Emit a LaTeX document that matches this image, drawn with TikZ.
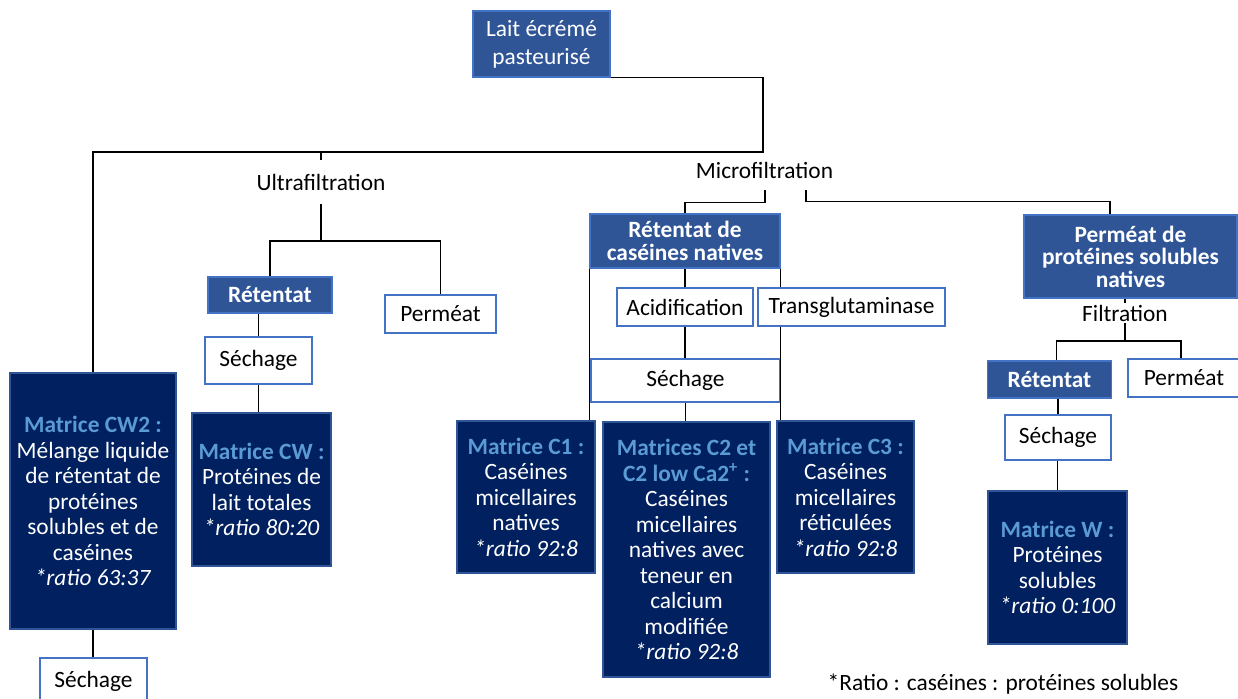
\documentclass[tikz,border=0pt]{standalone}
\usepackage{fontspec}
\setmainfont{Carlito}
\definecolor{midblue}{HTML}{2F5597}
\definecolor{navy}{HTML}{002060}
\definecolor{headblue}{HTML}{5B9BD5}
\definecolor{boxline}{HTML}{4472C4}
\newcommand{\px}{0.02cm}
\newcommand{\mhead}[1]{\textcolor{headblue}{\textbf{#1}}}
\tikzset{
  every node/.style={font=\fontsize{13.3}{14.5}\selectfont,align=center,inner sep=0pt},
  sz/.style 2 args={minimum width=#1*\px,minimum height=#2*\px},
  bluebox/.style={fill=midblue,draw=boxline,line width=0.8pt,text=white},
  boldbox/.style={bluebox,font=\bfseries\fontsize{13.3}{12.8}\selectfont},
  whitebox/.style={fill=white,draw=boxline,line width=0.8pt,text=black},
  matbox/.style={fill=navy,draw=midblue,line width=0.8pt,text=white},
  link/.style={draw=black,line width=0.8pt}
}

\begin{document}
\begin{tikzpicture}[x=\px,y=-\px]
\useasboundingbox (0,0) rectangle (1238,698);
\clip (0,0) rectangle (1238,698);
\node[bluebox,sz={137}{66},font=\fontsize{13.3}{15.9}\selectfont] (lait) at (541.5,44) {Lait écrémé\\pasteurisé};
\node[sz={150}{44}] (uf) at (321,182) {Ultrafiltration};
\node[sz={150}{40}] (mf) at (764.5,170) {Microfiltration};
\node[boldbox,sz={124}{36}] (ret1) at (270,295) {Rétentat};
\node[whitebox,sz={111}{38}] (perm1) at (440.5,314) {Perméat};
\node[whitebox,sz={107}{47}] (sech1) at (258.5,360.5) {Séchage};
\node[matbox,sz={139}{153}] (cw) at (261.5,489.5) {\mhead{Matrice CW :}\\Protéines de\\lait totales\\\textit{*ratio 80:20}};
\node[matbox,sz={166}{256}] (cw2) at (93,501) {\mhead{Matrice CW2 :}\\Mélange liquide\\de rétentat de\\protéines\\solubles et de\\caséines\\\textit{*ratio 63:37}};
\node[whitebox,sz={107}{46}] (sech0) at (93.5,681) {Séchage};
\node[boldbox,sz={190}{54}] (retcas) at (685,241) {Rétentat de\\caséines natives};
\node[whitebox,sz={136}{38}] (acid) at (685,307) {Acidification};
\node[whitebox,sz={187}{38}] (trans) at (851.5,307) {Transglutaminase};
\node[whitebox,sz={189}{43}] (sech2) at (685.5,380.5) {Séchage};
\node[matbox,sz={138}{152}] (c1) at (526,497) {\mhead{Matrice C1 :}\\Caséines\\micellaires\\natives\\\textit{*ratio 92:8}};
\node[matbox,sz={167}{255}] (c2) at (686.5,549.5) {\mhead{Matrices C2 et}\\\mhead{C2 low Ca2\textsuperscript{+} :}\\Caséines\\micellaires\\natives avec\\teneur en\\calcium\\modifiée\\\textit{*ratio 92:8}};
\node[matbox,sz={137}{152}] (c3) at (845.5,497) {\mhead{Matrice C3 :}\\Caséines\\micellaires\\réticulées\\\textit{*ratio 92:8}};
\node[boldbox,sz={213}{83}] (permps) at (1130.5,256.5) {Perméat de\\protéines solubles\\natives};
\node[sz={90}{20}] (filt) at (1125,313) {Filtration};
\node[boldbox,sz={124}{37}] (ret2) at (1049.5,379.5) {Rétentat};
\node[whitebox,sz={112}{38}] (perm2) at (1184,378) {Perméat};
\node[whitebox,sz={106}{45}] (sech3) at (1058,437.5) {Séchage};
\node[matbox,sz={139}{153}] (mw) at (1057.5,567.5) {\mhead{Matrice W :}\\Protéines\\solubles\\\textit{*ratio 0:100}};
\node (note) at (1003,684) {*Ratio : caséines : protéines solubles};
\coordinate (j0) at (763,152);
\coordinate (j1) at (321,241);
\coordinate (j3) at (1125,341);
\draw[link] (lait.south east) -| (j0) -| (cw2.north);
\draw[link] (uf.north |- j0) -- (uf.north);
\draw[link] (uf.south) -- (j1);
\draw[link] (ret1.north) |- (j1) -| (perm1.north);
\draw[link] (sech1.north) -- (sech1.north |- ret1.south);
\draw[link] (sech1.south) -- (sech1.south |- cw.north);
\draw[link] (cw2.south) -- (cw2.south |- sech0.north);
\draw[link] ([xshift=0.5*\px]mf.south) -- ++(0,12) -| (retcas.north);
\draw[link] ([xshift=41.5*\px]mf.south) -- ++(0,11) -| ([xshift=-20.5*\px]permps.north);
\draw[link] (acid.north) -- (acid.north |- retcas.south);
\draw[link] (retcas.south west) -- (retcas.south west |- c1.north);
\draw[link] (retcas.south east) -- (retcas.south east |- trans.north);
\draw[link] (retcas.south east |- trans.south) -- (retcas.south east |- c3.north);
\draw[link] (acid.south) -- (acid.south |- sech2.north);
\draw[link] (sech2.south) -- (sech2.south |- c2.north);
\draw[link] (permps.south -| filt) -- (filt.north);
\draw[link] (filt.south) -- (j3);
\draw[link] ([xshift=7*\px]ret2.north) |- (j3) -| ([xshift=-3*\px]perm2.north);
\draw[link] (sech3.north) -- (sech3.north |- ret2.south);
\draw[link] (mw.north) -- (mw.north |- sech3.south);
\end{tikzpicture}
\end{document}
